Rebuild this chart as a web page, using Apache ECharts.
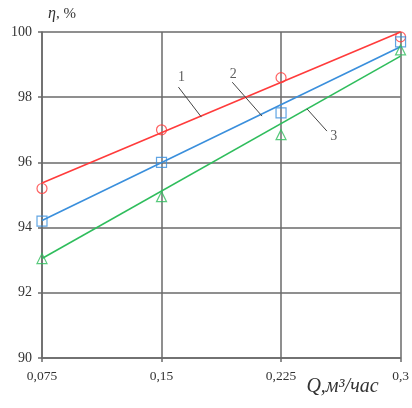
<!DOCTYPE html>
<html>
<head>
<meta charset="utf-8">
<script src="https://cdn.jsdelivr.net/npm/echarts@6/dist/echarts.min.js"></script>
<style>
  html, body { margin: 0; padding: 0; background: #fff; }
  #chart { width: 412px; height: 408px; }
</style>
</head>
<body>
<div id="chart"></div>
<script>
// Flow rate Q, m³/h
const flowRates = [0.075, 0.15, 0.225, 0.3];
const xTickLabels = ['0,075', '0,15', '0,225', '0,3'];

// Measured efficiency, %
const measured1 = [95.2, 97.0, 98.6, 99.85];
const measured2 = [94.2, 96.0, 97.52, 99.7];
const measured3 = [93.05, 94.95, 96.85, 99.45];

// Linear fits: value at first and last flow rate
const fitEnds = [0.075, 0.3];
const fit1 = [95.37, 100.0];
const fit2 = [94.22, 99.55];
const fit3 = [93.05, 99.26];

// Curve numbers with their leader lines: [x, y] in data units
const curveNames = ['1', '2', '3'];
const namePos = [[0.1625, 98.62], [0.195, 98.7], [0.258, 96.8]];
const leaderFrom = [[0.1606, 98.31], [0.1944, 98.46], [0.2413, 97.64]];
const leaderTo = [[0.175, 97.39], [0.2131, 97.42], [0.2538, 96.96]];

const colors = ['#ff3b3b', '#3a8fdc', '#2fbd5c'];
const symbols = ['circle', 'rect', 'triangle'];
const measured = [measured1, measured2, measured3];
const fits = [fit1, fit2, fit3];

const serif = '"Liberation Serif", "DejaVu Serif", serif';
const gridColor = '#6a6a6a';

const series = [];
fits.forEach((f, i) => {
  series.push({
    type: 'line',
    data: fitEnds.map((x, k) => [x, f[k]]),
    showSymbol: false,
    symbol: 'none',
    lineStyle: { color: colors[i], width: 1.6 },
    silent: true,
    z: 3
  });
});
measured.forEach((m, i) => {
  series.push({
    type: 'scatter',
    data: flowRates.map((x, k) => [x, m[k]]),
    symbol: symbols[i],
    symbolSize: 10,
    itemStyle: { color: 'rgba(255,255,255,0)', borderColor: colors[i], borderWidth: 1.2 },
    z: 4
  });
});
leaderFrom.forEach((p, i) => {
  series.push({
    type: 'line',
    data: [p, leaderTo[i]],
    symbol: 'none',
    lineStyle: { color: '#444', width: 1 },
    silent: true,
    z: 5
  });
});
series.push({
  type: 'scatter',
  data: namePos.map((p, i) => ({ value: p, name: curveNames[i] })),
  symbolSize: 0,
  label: {
    show: true,
    position: 'inside',
    formatter: p => p.name,
    fontFamily: serif,
    fontSize: 14,
    color: '#333'
  },
  silent: true,
  z: 6
});

const chart = echarts.init(document.getElementById('chart'));
chart.setOption({
  animation: false,
  grid: { left: 42, right: 10, top: 32, bottom: 50 },
  xAxis: {
    type: 'value',
    min: 0.075,
    max: 0.3,
    interval: 0.075,
    name: 'Q,м³/час',
    nameLocation: 'end',
    nameGap: -22,
    nameTextStyle: {
      fontFamily: serif,
      fontStyle: 'italic',
      fontSize: 20,
      color: '#333',
      align: 'right',
      verticalAlign: 'top',
      padding: [19, 0, 0, 0]
    },
    axisLine: { lineStyle: { color: gridColor, width: 1.5 } },
    axisTick: { show: true, length: 4, lineStyle: { color: gridColor, width: 1.5 } },
    axisLabel: {
      margin: 11,
      fontFamily: serif,
      fontSize: 13.5,
      color: '#333',
      formatter: v => xTickLabels[Math.round(v / 0.075) - 1]
    },
    splitLine: { show: true, lineStyle: { color: gridColor, width: 1.5 } }
  },
  yAxis: {
    type: 'value',
    min: 90,
    max: 100,
    interval: 2,
    name: '{i|η}, %',
    nameLocation: 'end',
    nameGap: 10,
    nameTextStyle: {
      fontFamily: serif,
      fontSize: 15,
      color: '#333',
      align: 'left',
      padding: [0, 0, 0, 6],
      rich: { i: { fontFamily: serif, fontStyle: 'italic', fontSize: 16, color: '#333' } }
    },
    axisLine: { show: true, lineStyle: { color: gridColor, width: 1.5 } },
    axisTick: { show: true, length: 4, lineStyle: { color: gridColor, width: 1.5 } },
    axisLabel: { margin: 10, fontFamily: serif, fontSize: 14, color: '#333' },
    splitLine: { show: true, lineStyle: { color: gridColor, width: 1.5 } }
  },
  series: series
});
</script>
</body>
</html>
